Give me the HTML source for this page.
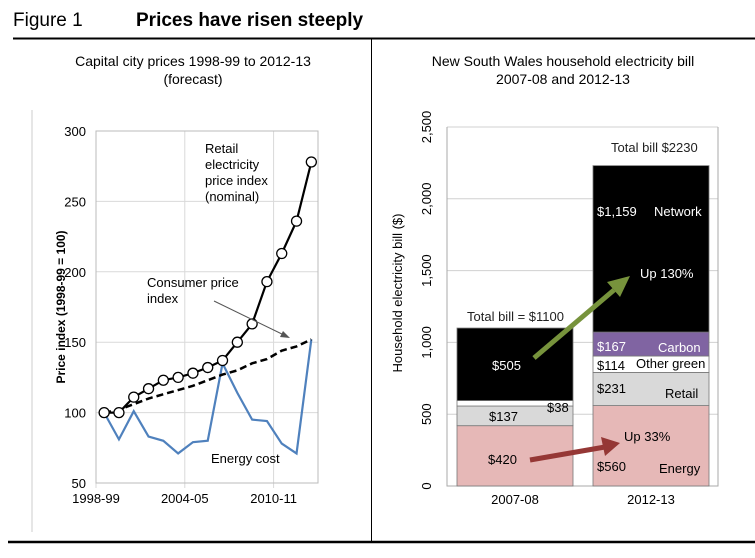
<!DOCTYPE html>
<html><head><meta charset="utf-8"><style>
body{margin:0;background:#fff;width:755px;height:558px;overflow:hidden;font-family:"Liberation Sans",Arial,sans-serif}
svg{position:absolute;left:0;top:0}
</style></head><body>
<svg id="s" width="755" height="558" viewBox="0 0 755 558">
<text x="13" y="26" font-size="19">Figure 1</text>
<text x="136" y="26" font-size="19" font-weight="bold">Prices have risen steeply</text>
<line x1="13" y1="38.5" x2="755" y2="38.5" stroke="#000" stroke-width="2"/>
<line x1="371.5" y1="38" x2="371.5" y2="542" stroke="#000" stroke-width="1"/>
<line x1="8" y1="542" x2="755" y2="542" stroke="#000" stroke-width="2.5"/>
<text x="193" y="66" font-size="14" text-anchor="middle">Capital city prices 1998-99 to 2012-13</text>
<text x="193" y="84" font-size="14" text-anchor="middle">(forecast)</text>
<text x="563" y="66" font-size="14" text-anchor="middle">New South Wales household electricity bill</text>
<text x="563" y="84" font-size="14" text-anchor="middle">2007-08 and 2012-13</text>
<line x1="32" y1="110" x2="32" y2="532" stroke="#ccc"/>
<g id="L"></g><g id="R"></g>
</svg>
<script>
const NS="http://www.w3.org/2000/svg";
function mk(p,t,a,txt){const e=document.createElementNS(NS,t);for(const k in a)e.setAttribute(k,a[k]);if(txt!=null)e.textContent=txt;p.appendChild(e);return e;}
// ---- Left chart data ----
const years=["1998-99","1999-00","2000-01","2001-02","2002-03","2003-04","2004-05","2005-06","2006-07","2007-08","2008-09","2009-10","2010-11","2011-12","2012-13"];
const retailIndex=[100,100,111,117,123,125,128,132,137,150,163,193,213,236,278];
const cpiIndex=[100,102,106,110,113,116,119,123,127,130,135,138,144,147,152];
const energyCost=[100,81,101,83,80,71,79,80,135,114,95,94,78,71,152];
const yTicksL=[50,100,150,200,250,300];
const xTickLabelsL=["1998-99","2004-05","2010-11"];
const L=document.getElementById('L');
const x0=96,dx=14.8,px=i=>x0+dx*(i+0.55),py=v=>483-(v-50)*(352/250);
yTicksL.forEach(v=>{
 const g=mk(L,'line',{x1:96,x2:318,y1:py(v),y2:py(v),stroke:'#d9d9d9'});
 
 const t=mk(L,'text',{x:86,y:py(v)+5,'font-size':13,'text-anchor':'end'},v);
 
});
xTickLabelsL.forEach(lbl=>{
 const i=years.indexOf(lbl),x=x0+dx*i;
 const g=mk(L,'line',{x1:x,x2:x,y1:131,y2:488,stroke:'#d9d9d9'});
 
 const t=mk(L,'text',{x:x,y:503,'font-size':13,'text-anchor':'middle'},lbl);
 
});
let fr=mk(L,'rect',{x:96,y:131,width:222,height:352,fill:'none',stroke:'#bbb'});

let yt=mk(L,'text',{x:0,y:0,'font-size':12,'font-weight':'bold','text-anchor':'middle',transform:'translate(65,307) rotate(-90)'},'Price index (1998-99 = 100)');

const pts=a=>a.map((v,i)=>px(i)+','+py(v)).join(' ');
let en=mk(L,'polyline',{points:pts(energyCost),fill:'none',stroke:'#4f81bd','stroke-width':2.2});

let cp=mk(L,'polyline',{points:pts(cpiIndex),fill:'none',stroke:'#000','stroke-width':2.5,'stroke-dasharray':'7,4'});

let rt=mk(L,'polyline',{points:pts(retailIndex),fill:'none',stroke:'#000','stroke-width':2.2});

retailIndex.forEach((v,i)=>{const c=mk(L,'circle',{cx:px(i),cy:py(v),r:5,fill:'#fff',stroke:'#000','stroke-width':1.3});
 });
[["Retail",205,153],["electricity",205,169],["price index",205,185],["(nominal)",205,201]].forEach(a=>{
 const t=mk(L,'text',{x:a[1],y:a[2],'font-size':13},a[0]);});
[["Consumer price",147,287],["index",147,303]].forEach(a=>{
 const t=mk(L,'text',{x:a[1],y:a[2],'font-size':13},a[0]);});
let ar=mk(L,'line',{x1:214,y1:301,x2:286,y2:336,stroke:'#555','stroke-width':1});

let ah=mk(L,'polygon',{points:'290,338 280,337 283,331',fill:'#555'});

let el=mk(L,'text',{x:211,y:463,'font-size':13},'Energy cost');


// ---- Right chart data ----
const periods=["2007-08","2012-13"];
const energyPart=[420,560];
const retailPart=[137,231];
const greenPart=[38,114];
const carbonPart=[0,167];
const networkPart=[505,1159];
const totals=[1100,2230];
const yTicksR=[0,500,1000,1500,2000,2500];
const R=document.getElementById('R');
const ry=v=>486-v*(359/2500),bx=[457,593],bw=116;
yTicksR.forEach(v=>{
 if(v>0){const g=mk(R,'line',{x1:447,x2:718,y1:ry(v),y2:ry(v),stroke:'#d0d0d0'});
 }
 const t=mk(R,'text',{x:0,y:0,'font-size':13,'text-anchor':'middle',transform:`translate(431,${ry(v)}) rotate(-90)`},v.toLocaleString('en-US'));
 
});
let rf=mk(R,'polyline',{points:'447,127 447,486 718,486 718,127',fill:'none',stroke:'#aaa'});

let ryt=mk(R,'text',{x:0,y:0,'font-size':13,'text-anchor':'middle',transform:'translate(402,293) rotate(-90)'},'Household electricity bill ($)');

const segs=[[energyPart,'#e6b8b7','energy'],[retailPart,'#d9d9d9','retail'],[greenPart,'#fff','other-green'],[carbonPart,'#8064a2','carbon'],[networkPart,'#000','network']];
periods.forEach((p,i)=>{
 let base=0;
 segs.forEach(s=>{const v=s[0][i];if(v>0){
  const r=mk(R,'rect',{x:bx[i],y:ry(base+v),width:bw,height:ry(base)-ry(base+v),fill:s[1],stroke:'#777','stroke-width':0.8});
  }
  base+=v;});
 const t=mk(R,'text',{x:bx[i]+bw/2,y:504,'font-size':13,'text-anchor':'middle'},p);
 
});
const lab=(x,y,s,c,n,a)=>{const t=mk(R,'text',{x:x,y:y,'font-size':13,fill:c,'text-anchor':a||'start'},s);};
const F='"Liberation Sans",sans-serif';
lab(467,321,'Total bill = $'+totals[0],'#222','total-label-2007');
lab(611,152,'Total bill  $'+totals[1],'#222','total-label-2012');
lab(492,370,'$'+networkPart[0],'#fff','network-value-2007');
lab(489,421,'$'+retailPart[0],'#000','retail-value-2007');
lab(547,412,'$'+greenPart[0],'#000','green-value-2007');
lab(488,464,'$'+energyPart[0],'#000','energy-value-2007');
lab(597,216,'$'+networkPart[1].toLocaleString('en-US'),'#fff','network-value-2012');
lab(654,216,'Network','#fff','network-label');
lab(640,278,'Up 130%','#fff','network-growth-label');
lab(597,351,'$'+carbonPart[1],'#fff','carbon-value-2012');
lab(658,352,'Carbon','#fff','carbon-label');
lab(597,370,'$'+greenPart[1],'#000','green-value-2012');
lab(636,368,'Other green','#000','green-label');
lab(597,393,'$'+retailPart[1],'#000','retail-value-2012');
lab(665,398,'Retail','#000','retail-label');
lab(624,441,'Up 33%','#000','energy-growth-label');
lab(597,471,'$'+energyPart[1],'#000','energy-value-2012');
lab(659,473,'Energy','#000','energy-label');
let ga=mk(R,'line',{x1:534,y1:358,x2:614,y2:290,stroke:'#77933c','stroke-width':5});

let gh=mk(R,'polygon',{points:'630,276 607,282 620,297',fill:'#77933c'});

let ra=mk(R,'line',{x1:530,y1:460,x2:605,y2:447,stroke:'#953735','stroke-width':5});

let rh=mk(R,'polygon',{points:'620,443 601,437 605,456',fill:'#953735'});

</script>
</body></html>
